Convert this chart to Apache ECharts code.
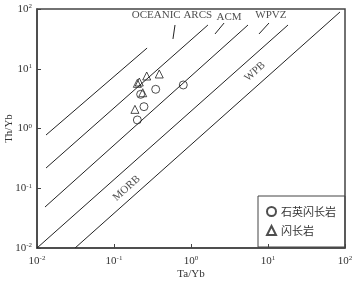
<!DOCTYPE html>
<html><head><meta charset="utf-8">
<script src="https://cdn.jsdelivr.net/npm/echarts@6/dist/echarts.min.js"></script>
<style>html,body{margin:0;padding:0;background:#fff}#c{width:361px;height:285px}</style>
</head><body><div id="c"></div>
<script>
// Tick values and their exponent labels
const tickExps = ['-2', '-1', '0', '1', '2'];
// Sample data: 石英闪长岩 (circles)
const qdTaYb = [0.794, 0.348, 0.222, 0.245, 0.201];
const qdThYb = [5.35, 4.53, 3.73, 2.32, 1.39];
// 闪长岩 (triangles)
const dTaYb = [0.201, 0.213, 0.266, 0.387, 0.236, 0.187];
const dThYb = [5.7, 6.0, 7.56, 8.17, 3.97, 2.09];
// Field boundary lines (endpoints, data units)
const boundaries = [
  [[0.0131, 0.778], [0.269, 22.2]],
  [[0.0131, 0.218], [1.66, 54]],
  [[0.0127, 0.0485], [5.5, 54]],
  [[0.01, 0.01], [18.2, 54]],
  [[0.0312, 0.01], [86, 89]]
];
// Label pointer ticks
const pointers = [
  [[0.62, 54], [0.583, 31.5]],
  [[2.05, 38.2], [2.69, 58.3]],
  [[7.64, 38.2], [10.3, 58.3]]
];
// Field labels: [x, y, text, rotate]
const fieldLabels = [
  [0.566, 79.4, 'OCEANIC ARCS', 0],
  [3.12, 73.5, 'ACM', 0],
  [10.9, 79.4, 'WPVZ', 0],
  [0.146, 0.1, 'MORB', 42],
  [6.78, 8.93, 'WPB', 42]
];

const serif = 'Liberation Serif, Times New Roman, serif';
const cjk = 'Noto Sans CJK SC';
const ink = '#222';

function expLabel(v) {
  const e = Math.round(Math.log10(v));
  const s = tickExps.find(t => Number(t) === e);
  return '{b|10}{s|' + (s !== undefined ? s : e) + '}';
}
const richLbl = {
  b: { fontFamily: serif, fontSize: 11, color: '#333', lineHeight: 12 },
  s: { fontFamily: serif, fontSize: 7, color: '#333', lineHeight: 8, verticalAlign: 'top' }
};

const series = [];
boundaries.concat(pointers).forEach(seg => {
  series.push({ type: 'line', data: seg, showSymbol: false, silent: true,
    lineStyle: { color: ink, width: 1 }, z: 2 });
});
series.push({
  type: 'scatter', silent: true, symbolSize: 0, z: 3,
  data: fieldLabels.map(l => ({ value: [l[0], l[1]], name: l[2],
    label: { show: true, position: 'inside', formatter: l[2], rotate: l[3],
      fontFamily: serif, fontSize: 11, color: ink } }))
});
series.push({
  name: '石英闪长岩', type: 'scatter', symbol: 'circle', symbolSize: 8, z: 4,
  itemStyle: { color: 'rgba(255,255,255,0)', borderColor: ink, borderWidth: 1 },
  data: qdTaYb.map((x, i) => [x, qdThYb[i]])
});
series.push({
  name: '闪长岩', type: 'scatter', symbol: 'triangle', symbolSize: 8, z: 4,
  itemStyle: { color: 'rgba(255,255,255,0)', borderColor: ink, borderWidth: 1 },
  data: dTaYb.map((x, i) => [x, dThYb[i]])
});

const chart = echarts.init(document.getElementById('c'), null, { renderer: 'canvas' });
chart.setOption({
  animation: false,
  backgroundColor: '#fff',
  grid: { left: 37, right: 16, top: 9, bottom: 37, containLabel: false, outerBoundsMode: 'none',
    show: true, borderColor: '#444', borderWidth: 1.5 },
  legend: {
    data: ['石英闪长岩', '闪长岩'], orient: 'vertical', left: 258, top: 196,
    padding: [10, 9, 11, 8], itemGap: 8, itemWidth: 9, itemHeight: 9,
    borderColor: '#444', borderWidth: 1,
    textStyle: { fontFamily: cjk, fontSize: 11, color: '#333' }
  },
  xAxis: {
    type: 'log', logBase: 10, min: 0.01, max: 100, interval: 1,
    name: 'Ta/Yb', nameLocation: 'middle', nameGap: 21, nameMoveOverlap: false,
    nameTextStyle: { fontFamily: serif, fontSize: 11, color: '#333' },
    axisLine: { lineStyle: { color: '#444', width: 1.5 } },
    axisTick: { inside: true, length: 4, lineStyle: { color: '#444' } },
    axisLabel: { margin: 7, formatter: expLabel, rich: richLbl },
    splitLine: { show: false }
  },
  yAxis: {
    type: 'log', logBase: 10, min: 0.01, max: 100, interval: 1,
    name: 'Th/Yb', nameLocation: 'middle', nameGap: 22, nameRotate: 90, nameMoveOverlap: false,
    nameTextStyle: { fontFamily: serif, fontSize: 11, color: '#333' },
    axisLine: { lineStyle: { color: '#444', width: 1.5 } },
    axisTick: { inside: true, length: 4, lineStyle: { color: '#444' } },
    axisLabel: { margin: 5, formatter: expLabel, rich: richLbl },
    splitLine: { show: false }
  },
  series: series
});
</script></body></html>
